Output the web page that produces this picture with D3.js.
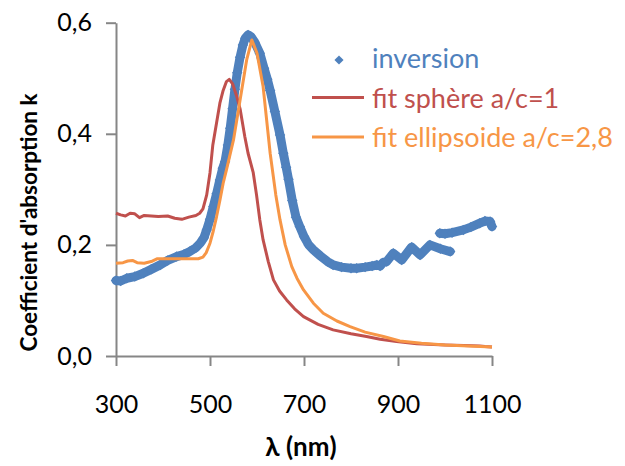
<!DOCTYPE html>
<html><head><meta charset="utf-8">
<script src="https://cdn.jsdelivr.net/npm/d3@7"></script>
<style>body{margin:0;background:#fff} text{font-family:Lato, "Open Sans", sans-serif}</style></head>
<body><svg id="c" width="625" height="466"></svg>
<script>
// inversion (blue markers)
const invLambda=[300,310,323,340,358,375,394,410,429,445,457,470,479,487,493,500,507,514,521,527,532,538,543,548,553,558,564,570,575,581,587,595,606,615,622,628,638,649,656,662,667,675,683,691,700,710,720,735,750,762,780,800,812,830,845,855,862,868,876,890,908,929,947,968,990,1011,
 989,1000,1015,1039,1055,1074,1085,1096,1100];
const invK=[0.136,0.135,0.140,0.143,0.149,0.156,0.164,0.172,0.179,0.183,0.188,0.195,0.203,0.213,0.227,0.246,0.269,0.292,0.317,0.338,0.350,0.380,0.410,0.445,0.480,0.510,0.538,0.560,0.572,0.578,0.575,0.565,0.545,0.518,0.498,0.478,0.440,0.398,0.365,0.340,0.318,0.280,0.250,0.233,0.215,0.200,0.191,0.180,0.170,0.164,0.160,0.158,0.158,0.160,0.162,0.164,0.162,0.168,0.170,0.185,0.173,0.196,0.182,0.200,0.193,0.188,
 0.221,0.220,0.222,0.227,0.232,0.239,0.243,0.242,0.233];
// fit sphère a/c=1 (red line)
const sphLambda=[300,310,320,330,340,350,360,375,390,410,425,440,455,470,478,485,493,500,506,514,521,528,535,541,548,557,564,574,581,592,599,606,613,624,635,648,663,680,699,730,762,800,833,862,897,940,1000,1040,1074,1085,1100];
const sphK=[0.257,0.254,0.252,0.257,0.256,0.249,0.253,0.252,0.251,0.252,0.248,0.246,0.250,0.253,0.257,0.265,0.290,0.330,0.380,0.420,0.455,0.478,0.494,0.498,0.490,0.467,0.445,0.395,0.365,0.330,0.290,0.245,0.209,0.170,0.137,0.117,0.101,0.085,0.071,0.057,0.047,0.040,0.035,0.030,0.026,0.022,0.020,0.019,0.018,0.017,0.016];
// fit ellipsoide a/c=2,8 (orange line)
const ellLambda=[300,315,325,335,345,360,375,387,420,450,475,485,492,500,507,514,521,528,535,550,564,578,589,600,613,628,640,649,660,674,685,699,720,741,770,798,830,869,904,950,1000,1050,1100];
const ellK=[0.167,0.168,0.171,0.172,0.168,0.167,0.170,0.175,0.175,0.175,0.175,0.178,0.186,0.203,0.225,0.251,0.280,0.311,0.335,0.389,0.461,0.533,0.569,0.545,0.485,0.365,0.290,0.245,0.200,0.161,0.140,0.119,0.095,0.077,0.063,0.053,0.043,0.035,0.027,0.023,0.020,0.018,0.016];
const xTicks=[300,500,700,900,1100];
const yTicks=[0,0.2,0.4,0.6];
const seriesNames=["inversion","fit sphère a/c=1","fit ellipsoide a/c=2,8"];
const colors=["#4F81BD","#C0504D","#F79646"];

const svg=d3.select("#c");
const x=d3.scaleLinear().domain([300,1100]).range([116,492]);
const y=d3.scaleLinear().domain([0,0.6]).range([356,22.7]);
const axisColor="#868686";

const yAxis=svg.append("g").attr("transform","translate(116,0)")
 .call(d3.axisLeft(y).tickValues(yTicks).tickSize(10).tickSizeOuter(0).tickPadding(14)
 .tickFormat(d=>d3.format(".1f")(d).replace(".",",")));
const xAxis=svg.append("g").attr("transform","translate(0,356)")
 .call(d3.axisBottom(x).tickValues(xTicks).tickSize(10).tickSizeOuter(0).tickPadding(29)
 .tickFormat(d3.format("d")));
[yAxis,xAxis].forEach(g=>{
 g.select(".domain").attr("stroke",axisColor).attr("stroke-width",2);
 g.selectAll(".tick line").attr("stroke",axisColor).attr("stroke-width",2);
 g.selectAll(".tick text").attr("fill","#000").style("font-size","25px").style("font-family","Lato");
});

// inversion: split into segments where lambda goes back
const invPts=invLambda.map((l,i)=>({l,k:invK[i]}));
const segs=[[]];
invPts.forEach((p,i)=>{ if(i>0 && p.l<invPts[i-1].l) segs.push([]); segs[segs.length-1].push(p); });
const line=d3.line().x(d=>x(d.l)).y(d=>y(d.k)).curve(d3.curveLinear);
segs.forEach(s=>svg.append("path").datum(s).attr("d",line).attr("fill","none")
 .attr("stroke",colors[0]).attr("stroke-width",9).attr("stroke-linejoin","round").attr("stroke-linecap","round"));
const sq=d3.symbol().type(d3.symbolSquare).size(55);
svg.append("g").selectAll("path").data(invPts).join("path").attr("d",sq)
 .attr("transform",d=>`translate(${x(d.l)},${y(d.k)}) rotate(45)`).attr("fill",colors[0]);

const sph=sphLambda.map((l,i)=>({l,k:sphK[i]}));
const ell=ellLambda.map((l,i)=>({l,k:ellK[i]}));
svg.append("path").datum(sph).attr("d",line).attr("fill","none").attr("stroke",colors[1]).attr("stroke-width",3).attr("stroke-linejoin","round");
svg.append("path").datum(ell).attr("d",line).attr("fill","none").attr("stroke",colors[2]).attr("stroke-width",3).attr("stroke-linejoin","round");

// legend
const lg=svg.append("g");
lg.append("path").attr("d",d3.symbol().type(d3.symbolSquare).size(42)).attr("transform","translate(339,60) rotate(45)").attr("fill",colors[0]);
lg.append("line").attr("x1",312).attr("x2",364).attr("y1",97.5).attr("y2",97.5).attr("stroke",colors[1]).attr("stroke-width",3);
lg.append("line").attr("x1",312).attr("x2",364).attr("y1",137).attr("y2",137).attr("stroke",colors[2]).attr("stroke-width",3);
[[68,0],[108,1],[147,2]].forEach(([yy,i])=>lg.append("text").attr("x",372).attr("y",yy).attr("fill",colors[i]).style("font-size","27px").text(seriesNames[i]));

// axis titles
svg.append("text").attr("x",301).attr("y",456).attr("text-anchor","middle").style("font-size","26px").style("font-weight","bold").text("λ (nm)");
svg.append("text").attr("transform","translate(37,222.5) rotate(-90)").attr("text-anchor","middle").style("font-size","22.5px").style("font-weight","bold").text("Coefficient d'absorption k");
</script></body></html>
